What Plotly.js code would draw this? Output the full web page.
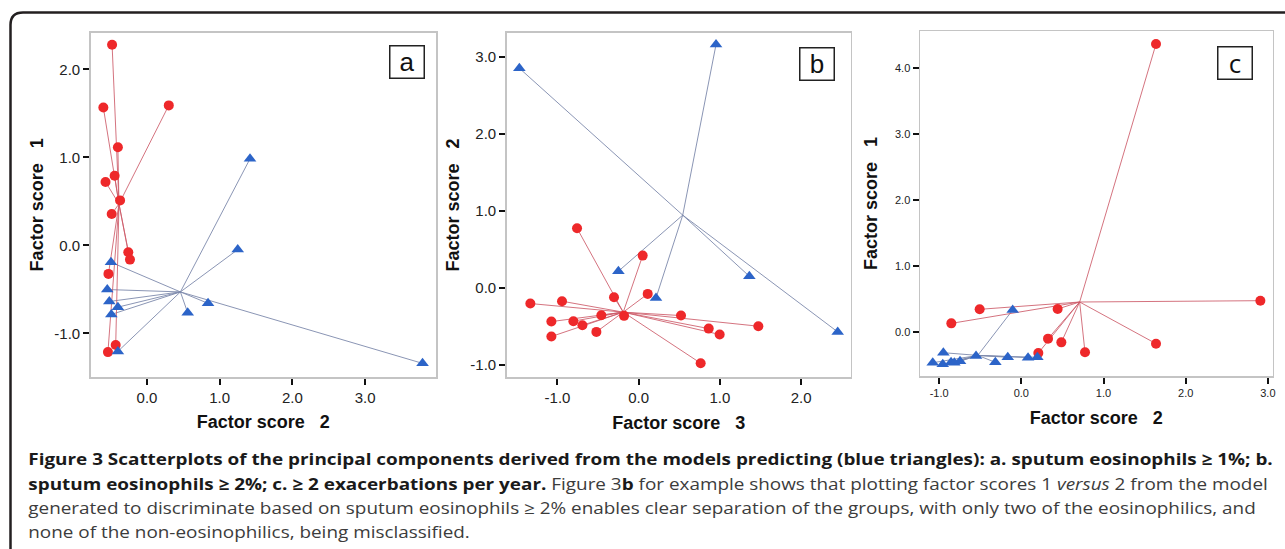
<!DOCTYPE html>
<html>
<head>
<meta charset="utf-8">
<script src="https://cdn.plot.ly/plotly-3.0.1.min.js"></script>
<style>
html,body{margin:0;padding:0;background:#fff;}
#chart{width:1285px;height:549px;}
</style>
</head>
<body>
<div id="chart"></div>
<script>
// ---------------- DATA ----------------
// Panel a: Factor score 2 (x) vs Factor score 1 (y)
const aRedX  = [-0.48, -0.60, 0.30, -0.40, -0.445, -0.57, -0.37, -0.485, -0.257, -0.234, -0.53, -0.43, -0.537];
const aRedY  = [2.28, 1.565, 1.59, 1.115, 0.79, 0.72, 0.51, 0.355, -0.08, -0.163, -0.325, -1.134, -1.214];
const aBlueX = [1.417, 1.248, -0.495, -0.546, -0.518, -0.40, -0.49, 0.84, 0.56, -0.40, 3.79];
const aBlueY = [0.983, -0.049, -0.193, -0.503, -0.639, -0.703, -0.786, -0.66, -0.767, -1.206, -1.342];
const aRedCentroid  = [-0.385, 0.47];
const aBlueCentroid = [0.46, -0.53];

// Panel b: Factor score 3 (x) vs Factor score 2 (y)
const bRedX  = [-0.759, 0.049, -0.304, 0.111, -1.334, -0.944, -1.075, -0.804, -0.693, -0.46, -0.18, -0.521, -1.075, 0.521, 0.862, 0.997, 1.473, 0.763];
const bRedY  = [0.774, 0.419, -0.121, -0.078, -0.203, -0.173, -0.437, -0.432, -0.484, -0.355, -0.363, -0.571, -0.631, -0.359, -0.528, -0.605, -0.497, -0.977];
const bBlueX = [-1.469, 0.952, -0.25, 0.213, 1.362, 2.45];
const bBlueY = [2.85, 3.157, 0.216, -0.13, 0.151, -0.571];
const bRedCentroid  = [-0.19, -0.315];
const bBlueCentroid = [0.542, 0.944];

// Panel c: Factor score 2 (x) vs Factor score 1 (y)
const cRedX  = [1.639, 2.909, -0.507, -0.852, 0.442, 0.325, 0.487, 0.207, 0.775, 1.639];
const cRedY  = [4.369, 0.475, 0.344, 0.131, 0.349, -0.101, -0.157, -0.319, -0.308, -0.177];
const cBlueX = [-0.105, -0.949, -1.078, -0.956, -0.855, -0.815, -0.746, -0.551, -0.316, -0.165, 0.082, 0.195];
const cBlueY = [0.334, -0.314, -0.466, -0.49, -0.46, -0.466, -0.445, -0.364, -0.46, -0.384, -0.39, -0.384];
const cRedCentroid  = [0.71, 0.455];
const cBlueCentroid = [-0.53, -0.355];

// Tick values / labels
const aXTicks = [0, 1, 2, 3];          const aXLabels = ["0.0", "1.0", "2.0", "3.0"];
const aYTicks = [-1, 0, 1, 2];         const aYLabels = ["-1.0", "0.0", "1.0", "2.0"];
const bXTicks = [-1, 0, 1, 2];         const bXLabels = ["-1.0", "0.0", "1.0", "2.0"];
const bYTicks = [-1, 0, 1, 2, 3];      const bYLabels = ["-1.0", "0.0", "1.0", "2.0", "3.0"];
const cXTicks = [-1, 0, 1, 2, 3];      const cXLabels = ["-1.0", "0.0", "1.0", "2.0", "3.0"];
const cYTicks = [0, 1, 2, 3, 4];       const cYLabels = ["0.0", "1.0", "2.0", "3.0", "4.0"];

const panelLetters = ["a", "b", "c"];
const xTitles = ["Factor score\u00a0\u00a0\u00a02", "Factor score\u00a0\u00a0\u00a03", "Factor score\u00a0\u00a0\u00a02"];
const yTitles = ["Factor score\u00a0\u00a0\u00a01", "Factor score\u00a0\u00a0\u00a02", "Factor score\u00a0\u00a0\u00a01"];

const G = '<span style="color:#3c3c3c">';
const captionLines = [
  "<b>Figure 3 Scatterplots of the principal components derived from the models predicting (blue triangles): a. sputum eosinophils \u2265 1%; b.</b>",
  "<b>sputum eosinophils \u2265 2%; c. \u2265 2 exacerbations per year.</b> " + G + "Figure 3</span><b>b</b>" + G + " for example shows that plotting factor scores 1 <i>versus</i> 2 from the model</span>",
  G + "generated to discriminate based on sputum eosinophils \u2265 2% enables clear separation of the groups, with only two of the eosinophilics, and</span>",
  G + "none of the non-eosinophilics, being misclassified.</span>"
];

// ---------------- STYLE ----------------
const W = 1285, H = 549;
const RED = "rgb(238,40,42)";
const BLUE = "rgb(44,100,200)";
const RED_LINE = "rgba(205,90,105,0.85)";
const BLUE_LINE = "rgba(125,138,172,0.9)";
const fx = p => p / W;
const fy = p => 1 - p / H;

function spokes(xs, ys, c) {
  const X = [], Y = [];
  for (let i = 0; i < xs.length; i++) { X.push(c[0], xs[i], null); Y.push(c[1], ys[i], null); }
  return {X, Y};
}

const panels = [
  {rx: aRedX, ry: aRedY, bx: aBlueX, by: aBlueY, rc: aRedCentroid, bc: aBlueCentroid, xa: "x", ya: "y"},
  {rx: bRedX, ry: bRedY, bx: bBlueX, by: bBlueY, rc: bRedCentroid, bc: bBlueCentroid, xa: "x2", ya: "y2"},
  {rx: cRedX, ry: cRedY, bx: cBlueX, by: cBlueY, rc: cRedCentroid, bc: cBlueCentroid, xa: "x3", ya: "y3"}
];

const traces = [];
panels.forEach(p => {
  const bs = spokes(p.bx, p.by, p.bc);
  const rs = spokes(p.rx, p.ry, p.rc);
  traces.push({x: bs.X, y: bs.Y, xaxis: p.xa, yaxis: p.ya, mode: "lines", line: {color: BLUE_LINE, width: 1}, hoverinfo: "skip", showlegend: false});
  traces.push({x: rs.X, y: rs.Y, xaxis: p.xa, yaxis: p.ya, mode: "lines", line: {color: RED_LINE, width: 1}, hoverinfo: "skip", showlegend: false});
  traces.push({x: p.rx, y: p.ry, xaxis: p.xa, yaxis: p.ya, mode: "markers", marker: {symbol: "circle", size: 10, color: RED}, showlegend: false});
  traces.push({x: p.bx, y: p.by, xaxis: p.xa, yaxis: p.ya, mode: "markers", marker: {symbol: "triangle-up", size: 11, color: BLUE}, showlegend: false});
});

function axis(domain, range, tv, tt, title, fs, standoff) {
  return {
    domain: domain, range: range, tickvals: tv, ticktext: tt,
    showgrid: false, zeroline: false,
    showline: true, mirror: true, linecolor: "#c4c4c4", linewidth: 1.5,
    ticks: "outside", ticklen: 6, tickwidth: 2, tickcolor: "#111",
    tickfont: {family: "Arial, Liberation Sans, sans-serif", size: fs, color: "#222"},
    title: {text: title, standoff: standoff, font: {family: "Arial, Liberation Sans, sans-serif", size: 18, color: "#111", weight: "bold"}},
    fixedrange: true
  };
}

const layout = {
  width: W, height: H,
  margin: {l: 0, r: 0, t: 0, b: 0},
  paper_bgcolor: "#fff", plot_bgcolor: "#fff",
  showlegend: false,
  xaxis:  Object.assign(axis([fx(90.7), fx(436)],  [-0.774, 3.975], aXTicks, aXLabels, xTitles[0], 15, 11), {anchor: "y"}),
  yaxis:  Object.assign(axis([fy(377), fy(32.7)],  [-1.497, 2.416], aYTicks, aYLabels, yTitles[0], 15, 6), {anchor: "x"}),
  xaxis2: Object.assign(axis([fx(506.7), fx(850.7)], [-1.625, 2.61], bXTicks, bXLabels, xTitles[1], 15, 11), {anchor: "y2"}),
  yaxis2: Object.assign(axis([fy(377.3), fy(32.7)], [-1.16, 3.311], bYTicks, bYLabels, yTitles[1], 15, 6), {anchor: "x2"}),
  xaxis3: Object.assign(axis([fx(920), fx(1272.7)], [-1.233, 3.059], cXTicks, cXLabels, xTitles[2], 11, 13), {anchor: "y3"}),
  yaxis3: Object.assign(axis([fy(376), fy(31)],     [-0.6675, 4.566], cYTicks, cYLabels, yTitles[2], 11, 12), {anchor: "x3"}),
  shapes: [
    {type: "path", xref: "paper", yref: "paper",
     path: `M ${fx(10.5)},${fy(560)} L ${fx(10.5)},${fy(25)} Q ${fx(10.5)},${fy(12.5)} ${fx(23)},${fy(12.5)} L ${fx(1300)},${fy(12.5)}`,
     line: {color: "#231f20", width: 2.5}}
  ],
  annotations: []
};

const boxCenters = [[406.5, 62.5], [816.7, 63.8], [1235, 63.3]];
panelLetters.forEach((t, i) => {
  layout.annotations.push({
    text: t, xref: "paper", yref: "paper", x: fx(boxCenters[i][0]), y: fy(boxCenters[i][1]),
    xanchor: "center", yanchor: "middle", showarrow: false,
    width: 31, height: 29, bordercolor: "#222", borderwidth: 1.5, bgcolor: "#fff",
    font: {family: i === 2 ? "Open Sans, sans-serif" : "Arial, Liberation Sans, sans-serif", size: 26, color: "#111"}
  });
});

const CAP_LEFT = 26, CAP_RIGHT = 1271;
const capY = [458, 483, 507, 531];
captionLines.forEach((t, i) => {
  layout.annotations.push({
    text: t, xref: "paper", yref: "paper", x: fx(CAP_LEFT), y: fy(capY[i]),
    xanchor: "left", yanchor: "middle", align: "left", showarrow: false,
    font: {family: "Open Sans, sans-serif", size: 16.5, color: "#1a1a1a"}
  });
});

Plotly.newPlot("chart", traces, layout, {displayModeBar: false, staticPlot: true}).then(gd => {
  // stretch caption horizontally so its first line spans the same width as in the figure
  const anns = gd.querySelectorAll(".annotation");
  const capIdx = [3, 4, 5, 6];
  let first = null;
  anns.forEach(a => { if (a.getAttribute("data-index") === "3") first = a; });
  if (!first) return;
  const txt = first.querySelector("text");
  const w = txt.getBBox().width;
  const s = (CAP_RIGHT - CAP_LEFT) / w;
  anns.forEach(a => {
    const idx = +a.getAttribute("data-index");
    if (capIdx.indexOf(idx) >= 0) {
      a.setAttribute("transform", `translate(${CAP_LEFT},0) scale(${s},1) translate(${-CAP_LEFT},0)`);
    }
  });
});
</script>
</body>
</html>
